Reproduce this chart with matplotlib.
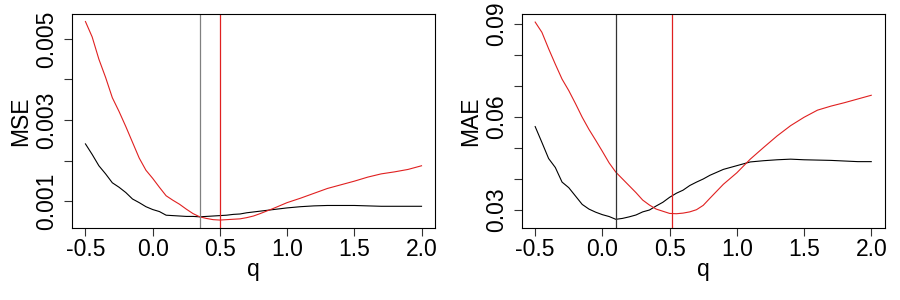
import matplotlib
matplotlib.use("Agg")
import matplotlib.pyplot as plt

plt.rcParams['font.family'] = ['Liberation Sans', 'DejaVu Sans']

q = [-0.5, -0.45, -0.4, -0.35, -0.3, -0.25, -0.2, -0.15, -0.1, -0.05, 0.0, 0.05,
     0.1, 0.15, 0.2, 0.25, 0.3, 0.35, 0.4, 0.45, 0.5, 0.55, 0.6, 0.65, 0.7, 0.75,
     0.8, 0.9, 1.0, 1.1, 1.2, 1.3, 1.4, 1.5, 1.6, 1.7, 1.8, 1.9, 2.0]

mse_red = [0.00543, 0.00505, 0.00450, 0.00405, 0.00355, 0.00321, 0.00284, 0.00245,
           0.00206, 0.00176, 0.00156, 0.00134, 0.00113, 0.00102, 0.00092, 0.00080,
           0.00069, 0.00061, 0.00057, 0.00054, 0.00053, 0.00054, 0.00055, 0.00056,
           0.00059, 0.00063, 0.00069, 0.00082, 0.00096, 0.00107, 0.00119, 0.00131,
           0.00140, 0.00149, 0.00159, 0.00167, 0.00172, 0.00178, 0.00187]
mse_black = [0.00241, 0.00215, 0.00187, 0.00167, 0.00145, 0.00134, 0.00121, 0.00105,
             0.00096, 0.00086, 0.00079, 0.00074, 0.00065, 0.00064, 0.00063, 0.00062,
             0.00062, 0.00061, 0.00062, 0.00063, 0.00064, 0.00065, 0.00067, 0.00068,
             0.00071, 0.00073, 0.00075, 0.00079, 0.00083, 0.00086, 0.00088, 0.00089,
             0.00089, 0.00089, 0.00088, 0.00087, 0.00087, 0.00087, 0.00087]
mae_red = [0.0906, 0.0873, 0.0820, 0.0770, 0.0722, 0.0685, 0.0643, 0.0599, 0.0560,
           0.0525, 0.0489, 0.0452, 0.0422, 0.0400, 0.0378, 0.0356, 0.0332, 0.0316,
           0.0303, 0.0296, 0.0289, 0.0288, 0.0290, 0.0294, 0.0301, 0.0315, 0.0338,
           0.0383, 0.0420, 0.0464, 0.0502, 0.0539, 0.0572, 0.0599, 0.0622, 0.0635,
           0.0646, 0.0658, 0.0670]
mae_black = [0.0569, 0.0518, 0.0466, 0.0437, 0.0390, 0.0372, 0.0345, 0.0318, 0.0303,
             0.0293, 0.0285, 0.0279, 0.0270, 0.0273, 0.0278, 0.0284, 0.0294, 0.0300,
             0.0313, 0.0325, 0.0341, 0.0354, 0.0364, 0.0379, 0.0390, 0.0400, 0.0412,
             0.0431, 0.0443, 0.0455, 0.0459, 0.0462, 0.0464, 0.0462, 0.0461, 0.0460,
             0.0458, 0.0456, 0.0456]

mse_vlines = [0.35, 0.5]
mae_vlines = [0.1, 0.52]

x_ticks = [-0.5, 0.0, 0.5, 1.0, 1.5, 2.0]
x_labels = ["-0.5", "0.0", "0.5", "1.0", "1.5", "2.0"]
mse_yticks = [0.001, 0.002, 0.003, 0.004, 0.005]
mse_ylabels = ["0.001", "", "0.003", "", "0.005"]
mae_yticks = [0.03, 0.04, 0.05, 0.06, 0.07, 0.08, 0.09]
mae_ylabels = ["0.03", "", "", "0.06", "", "", "0.09"]

FS = 16.5
fig = plt.figure(figsize=(9, 3), dpi=100)

panels = [
    dict(rect=[0.080, 0.24, 0.4033, 0.7133], black=mse_black, red=mse_red,
         vl=mse_vlines, vcol='#808080', yt=mse_yticks, yl=mse_ylabels,
         ylim=(0.000334, 0.005616), ylabel="MSE"),
    dict(rect=[0.5797, 0.24, 0.4033, 0.7133], black=mae_black, red=mae_red,
         vl=mae_vlines, vcol='#333333', yt=mae_yticks, yl=mae_ylabels,
         ylim=(0.0242, 0.0932), ylabel="MAE"),
]

for p in panels:
    ax = fig.add_axes(p['rect'])
    ax.plot(q, p['black'], color='black', lw=0.8)
    ax.plot(q, p['red'], color='#e02020', lw=0.8)
    ax.axvline(p['vl'][0], color=p['vcol'], lw=0.9)
    ax.axvline(p['vl'][1], color='#e02020', lw=0.9)
    ax.set_xlim(-0.6, 2.1)
    ax.set_ylim(*p['ylim'])
    ax.set_xticks(x_ticks)
    ax.set_xticklabels(x_labels, fontsize=FS)
    ax.set_yticks(p['yt'])
    ax.set_yticklabels(p['yl'], fontsize=FS, rotation=90, va='center')
    ax.tick_params(axis='both', direction='out', length=6, width=0.8, color='#333333')
    ax.tick_params(axis='x', pad=1)
    ax.tick_params(axis='y', pad=4)
    for s in ax.spines.values():
        s.set_linewidth(0.8)
    ax.set_xlabel("q", fontsize=FS)
    ax.set_ylabel(p['ylabel'], fontsize=FS)
    ax.xaxis.set_label_coords(0.5, -0.14)
    ax.yaxis.set_label_coords(-0.11, 0.5)

fig.savefig("out.png", dpi=100)
